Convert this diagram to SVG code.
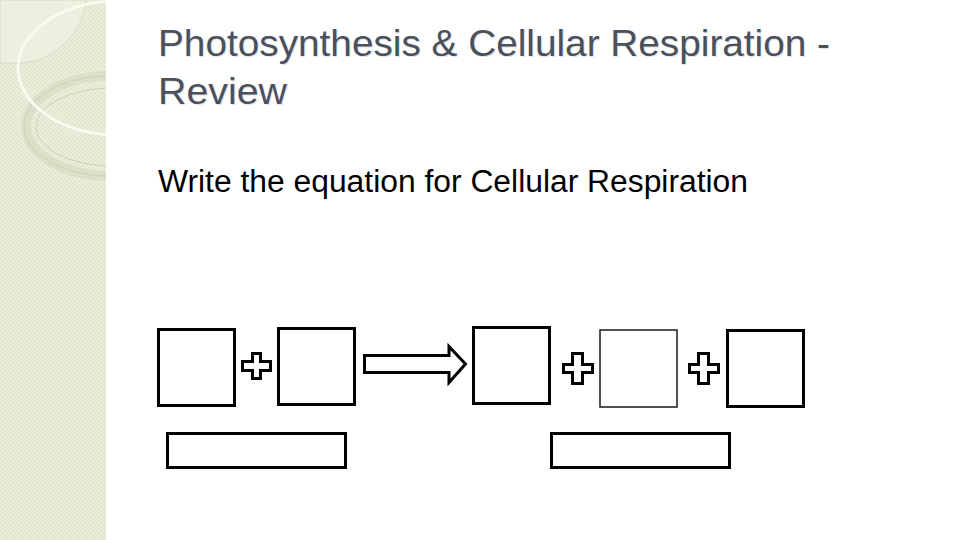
<svg xmlns="http://www.w3.org/2000/svg" width="960" height="540" viewBox="0 0 960 540">
  <defs>
    <pattern id="chk" width="4" height="4" patternUnits="userSpaceOnUse">
      <rect width="4" height="4" fill="#e3e7cd"/>
      <rect width="2" height="2" fill="#eceedd"/>
      <rect x="2" y="2" width="2" height="2" fill="#eceedd"/>
    </pattern>
    <clipPath id="panel"><rect x="0" y="0" width="106" height="540"/></clipPath>
  </defs>
  <style>
    .box { fill: #ffffff; stroke: #000000; stroke-width: 3; }
    .thin { fill: #ffffff; stroke: #1a1a1a; stroke-width: 1.5; }
    .title { font-family: "Liberation Sans", Arial, sans-serif; font-size: 36.5px; fill: #4b505d; }
    .shadow { font-family: "Liberation Sans", Arial, sans-serif; font-size: 36.5px; fill: #e4e5e8; }
    .body { font-family: "Liberation Sans", Arial, sans-serif; font-size: 31px; fill: #000000; }
  </style>
  <rect width="960" height="540" fill="#ffffff"/>

  <g id="side-panel" clip-path="url(#panel)">
    <rect x="0" y="0" width="106" height="540" fill="url(#chk)"/>
    <path d="M0 0 H86 A70 70 0 0 1 22 63 H0 Z" fill="#f1f3e6" opacity="0.6" stroke="#c9ccb7" stroke-width="0.8"/>
    <ellipse cx="110" cy="126" rx="84" ry="50" fill="none" stroke="#d8dcc2" stroke-width="10" opacity="0.7"/>
    <ellipse cx="110" cy="126" rx="86" ry="50" fill="none" stroke="#c8cbb4" stroke-width="0.8"/>
    <ellipse cx="112" cy="127" rx="76" ry="39" fill="none" stroke="#c8cbb4" stroke-width="0.8"/>
    <ellipse cx="118" cy="68" rx="100" ry="67" fill="none" stroke="#fbfcf4" stroke-width="3" opacity="0.9"/>
  </g>

  <g id="title">
    <text class="shadow" x="159" y="57" textLength="672" lengthAdjust="spacingAndGlyphs">Photosynthesis &amp; Cellular Respiration -</text>
    <text class="title" x="158" y="56" textLength="672" lengthAdjust="spacingAndGlyphs">Photosynthesis &amp; Cellular Respiration -</text>
    <text class="shadow" x="159" y="105" textLength="129" lengthAdjust="spacingAndGlyphs">Review</text>
    <text class="title" x="158" y="104" textLength="129" lengthAdjust="spacingAndGlyphs">Review</text>
  </g>

  <g id="subtitle">
    <text class="body" x="158" y="192" textLength="590" lengthAdjust="spacingAndGlyphs">Write the equation for Cellular Respiration</text>
  </g>

  <g id="box1"><rect class="box" x="158.5" y="329.5" width="76" height="76"/></g>
  <g id="plus1"><path class="box" d="M252.5 353.5 H260.5 V361.5 H270.5 V370.5 H260.5 V378.5 H252.5 V370.5 H242.5 V361.5 H252.5 Z"/></g>
  <g id="box2"><rect class="box" x="278.5" y="328.5" width="76" height="76"/></g>

  <g id="connectors">
    <path id="arrow" class="box" d="M364.5 355.5 H449 V346.5 L465.5 364 L449 382.5 V372.5 H364.5 Z" stroke-linejoin="miter"/>
  </g>

  <g id="box3"><rect class="box" x="473.5" y="327.5" width="76" height="76"/></g>
  <g id="plus2"><path class="box" d="M572.5 353.5 H582.5 V364.5 H592.5 V372.5 H582.5 V383.5 H572.5 V372.5 H563.5 V364.5 H572.5 Z"/></g>
  <g id="box4"><rect class="thin" x="600" y="330" width="77" height="77"/></g>
  <g id="plus3"><path class="box" d="M698.5 353.5 H708.5 V364.5 H718.5 V372.5 H708.5 V383.5 H698.5 V372.5 H689.5 V364.5 H698.5 Z"/></g>
  <g id="box5"><rect class="box" x="727.5" y="330.5" width="76" height="76"/></g>

  <g id="reactants-label"><rect class="box" x="167.5" y="433.5" width="178" height="34"/></g>
  <g id="products-label"><rect class="box" x="551.5" y="433.5" width="178" height="34"/></g>
</svg>
